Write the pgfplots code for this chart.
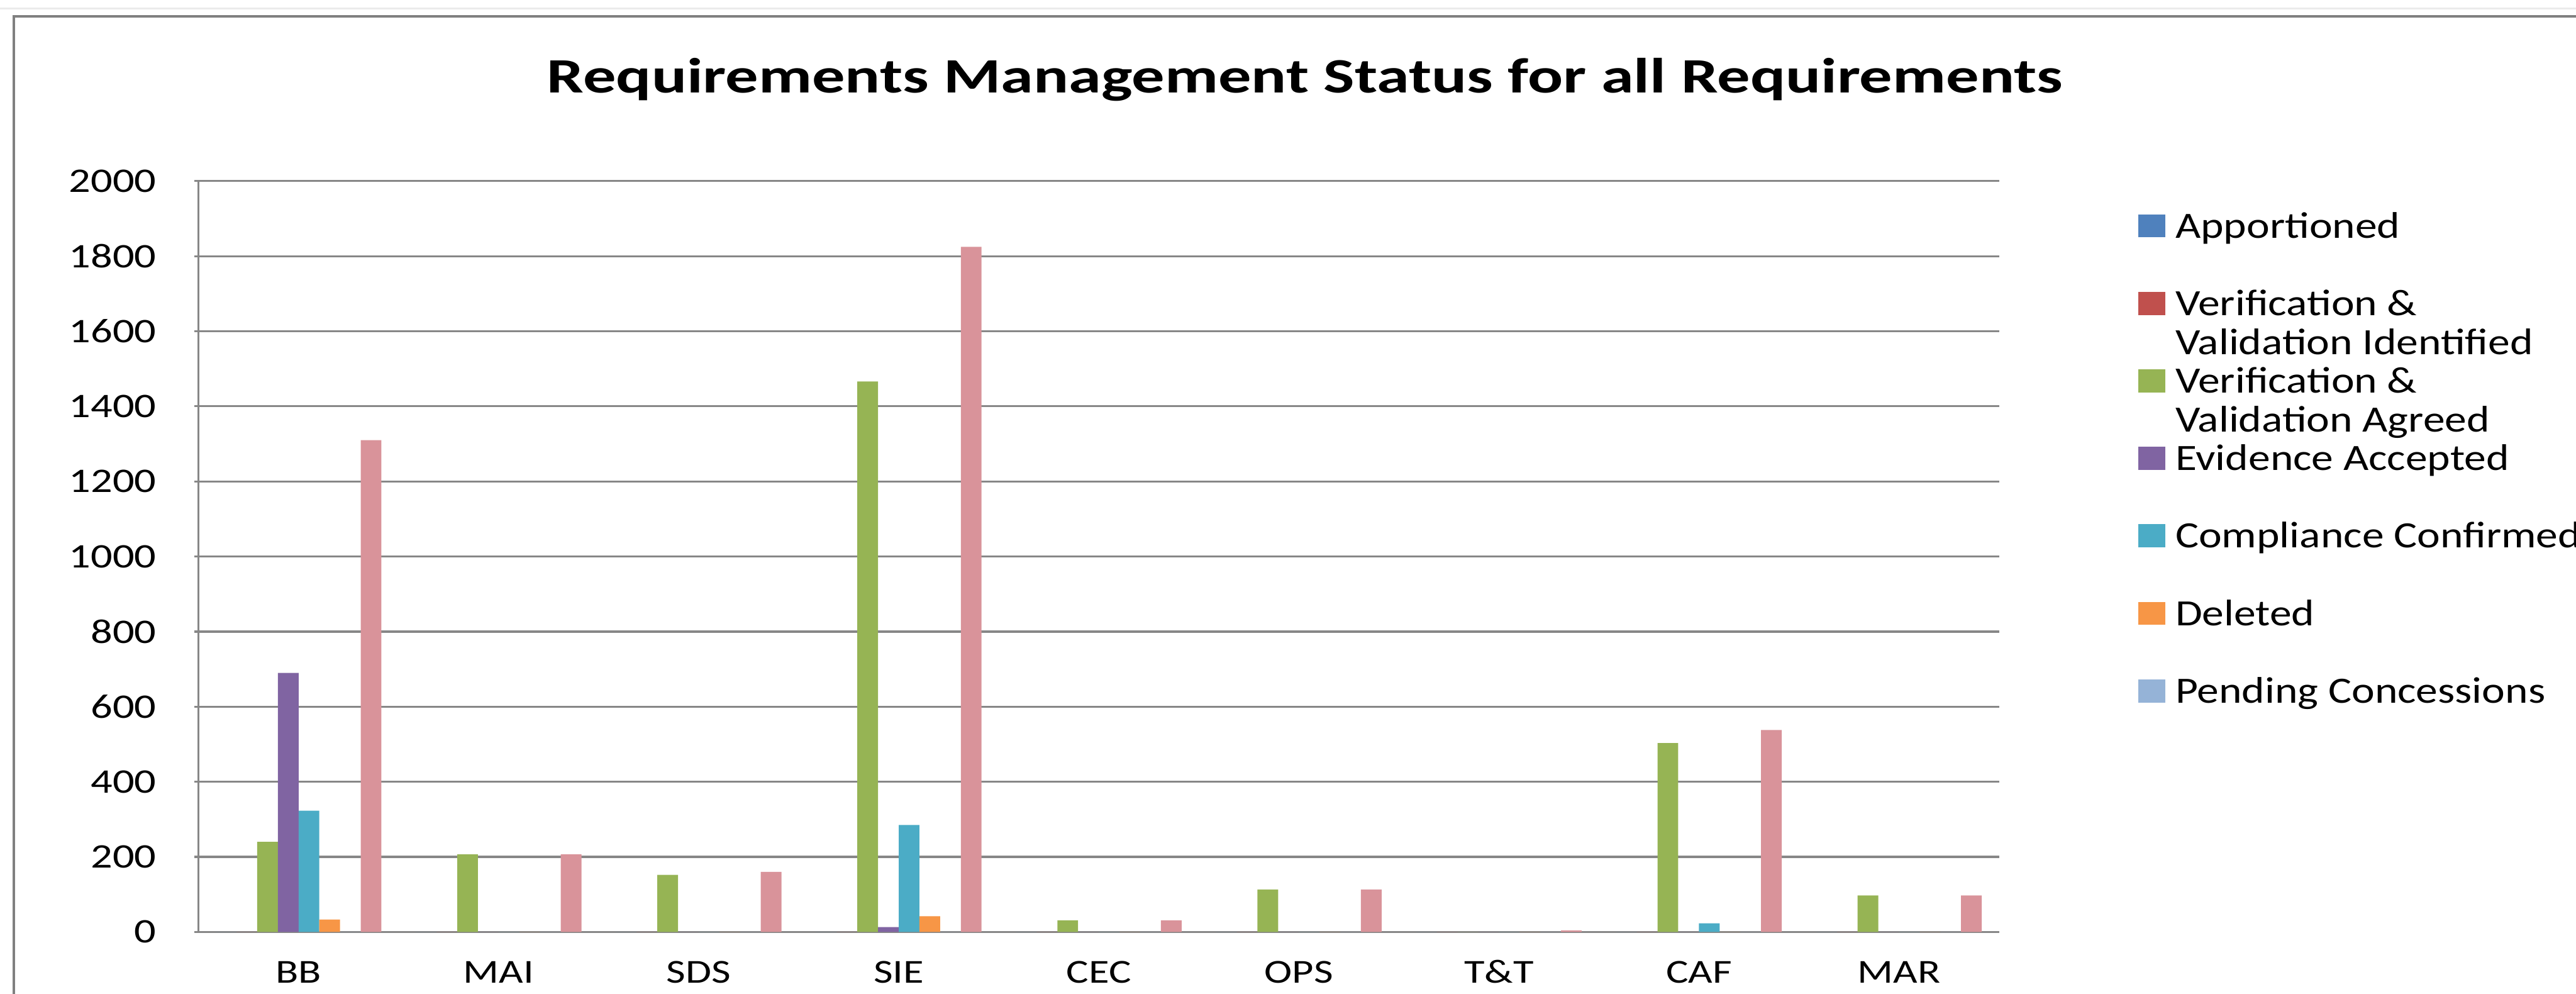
\documentclass[border=0pt]{standalone}
\usepackage{fontspec}
\setmainfont{Carlito}
\newfontfamily\titlefont{Carlito}[FakeStretch=1.33]
\newfontfamily\tickfont{Carlito}[FakeStretch=1.25]
\newfontfamily\legfont{Carlito}[FakeStretch=1.18]
\usepackage{pgfplots}
\pgfplotsset{compat=1.18}
\definecolor{cA}{HTML}{4F81BD}
\definecolor{cB}{HTML}{C0504D}
\definecolor{cC}{HTML}{96B454}
\definecolor{cD}{HTML}{8064A2}
\definecolor{cE}{HTML}{4BACC6}
\definecolor{cF}{HTML}{F79646}
\definecolor{cG}{HTML}{95B3D7}
\definecolor{cH}{HTML}{D9939A}
\definecolor{gridc}{HTML}{878787}
\newcommand\lent[1]{\smash{\parbox[t]{110pt}{\raggedright #1}}}
\pgfplotsset{sq/.style={legend image code/.code={\fill[#1] (0pt,0.1pt) rectangle (6.25pt,5.35pt);}}}
\begin{document}
\begin{tikzpicture}
\begin{axis}[
  at={(45pt,14pt)}, anchor=south west,
  scale only axis, width=408pt, height=170.1pt,
  ybar=0pt, bar width=4.69pt,
  xmin=-0.5, xmax=8.5, ymin=0, ymax=2000,
  xtick={0,...,8},
  xticklabels={BB,MAI,SDS,SIE,CEC,OPS,T\&T,CAF,MAR},
  ytick={0,200,...,2000},
  axis x line*=bottom, axis y line*=left,
  axis line style={draw=gridc, line width=0.45pt},
  ymajorgrids, major grid style={draw=gridc, line width=0.45pt},
  xtick style={draw=none},
  ytick style={draw=gridc, line width=0.45pt},
  tick align=outside, major tick length=1pt,
  /pgf/number format/assume math mode=true,
  /pgf/number format/1000 sep={},
  yticklabel style={font=\tickfont\fontsize{7.8}{9}\selectfont, inner sep=0pt, anchor=east, xshift=-8.4pt},
  xticklabel style={font=\tickfont\fontsize{7.6}{9}\selectfont, inner sep=0pt, anchor=north, yshift=-5.4pt, text height=4.9pt, text depth=0pt},
  title={Requirements Management Status for all Requirements},
  title style={at={(axis description cs:0.6145,1.0823)}, anchor=base, inner sep=0pt,
    font=\titlefont\bfseries\fontsize{11.2}{13}\selectfont},
  legend style={at={(axis description cs:1.0772,0.976)}, anchor=north west,
    draw=none, fill=none, inner sep=0pt, outer sep=0pt,
    column sep=2.25pt, row sep=0pt,
    font=\legfont\fontsize{8.4}{8.9}\selectfont,
    nodes={inner sep=0pt, outer sep=0pt, text height=8.78pt, text depth=8.78pt},
    cells={anchor=base west}},
]
\addplot[fill=cA, draw=none, sq=cA] coordinates {(0,0) (1,0) (2,0) (3,0) (4,0) (5,0) (6,0) (7,0) (8,0)};
\addlegendentry{\lent{Apportioned}}
\addplot[fill=cB, draw=none, sq=cB] coordinates {(0,0) (1,0) (2,0) (3,0) (4,0) (5,0) (6,0) (7,0) (8,0)};
\addlegendentry{\lent{Verification \&\\Validation Identified}}
\addplot[fill=cC, draw=none, sq=cC] coordinates {(0,240) (1,207) (2,152) (3,1466) (4,31) (5,113) (6,0) (7,503) (8,97)};
\addlegendentry{\lent{Verification \&\\Validation Agreed}}
\addplot[fill=cD, draw=none, sq=cD] coordinates {(0,690) (1,0) (2,0) (3,13) (4,0) (5,0) (6,0) (7,0) (8,0)};
\addlegendentry{\lent{Evidence Accepted}}
\addplot[fill=cE, draw=none, sq=cE] coordinates {(0,323) (1,0) (2,0) (3,285) (4,0) (5,0) (6,0) (7,23) (8,0)};
\addlegendentry{\lent{Compliance Confirmed}}
\addplot[fill=cF, draw=none, sq=cF] coordinates {(0,33) (1,0) (2,0) (3,42) (4,0) (5,0) (6,0) (7,0) (8,0)};
\addlegendentry{\lent{Deleted}}
\addplot[fill=cG, draw=none, sq=cG] coordinates {(0,0) (1,0) (2,0) (3,0) (4,0) (5,0) (6,0) (7,0) (8,0)};
\addlegendentry{\lent{Pending Concessions}}
\addplot[fill=cH, draw=none] coordinates {(0,1310) (1,207) (2,160) (3,1825) (4,31) (5,113) (6,4) (7,538) (8,97)};
\end{axis}
\draw[black!8, line width=0.4pt] (0,223.2pt) -- (583.75pt,223.2pt);
\draw[black!50, line width=0.5pt] (3.1pt,0) -- (3.1pt,221.4pt) -- (583.75pt,221.4pt);
\pgfresetboundingbox
\path[use as bounding box] (0,0) rectangle (583.75pt,225.125pt);
\end{tikzpicture}
\end{document}
